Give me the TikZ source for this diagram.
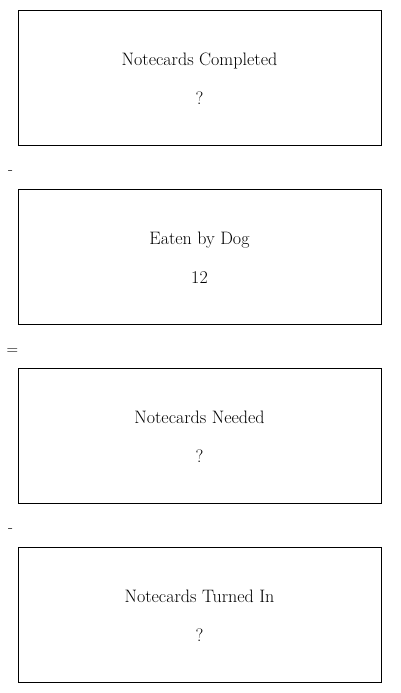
\documentclass[tikz,border=0pt]{standalone}
\begin{document}
\begin{tikzpicture}[x=1pt,y=-1pt,
  card/.style={draw=black,line width=1pt,minimum width=363pt,minimum height=135pt,inner sep=0pt,anchor=north west},
  lbl/.style={font=\fontsize{18}{21}\selectfont,inner sep=0pt},
  op/.style={font=\fontsize{16}{19}\selectfont,inner sep=0pt}]
\useasboundingbox (0,0) rectangle (400,693);
\node[card] (c1) at (18,10) {};
\node[card] (c2) at (18,189) {};
\node[card] (c3) at (18,368) {};
\node[card] (c4) at (18,547) {};
\node[lbl,anchor=base] (t1) at (199.5,65.5) {Notecards Completed};
\node[lbl,anchor=base] (v1) at (199.5,104.5) {?};
\node[lbl,anchor=base] (t2) at (199.5,244.5) {Eaten by Dog};
\node[lbl,anchor=base] (v2) at (199.5,283.5) {12};
\node[lbl,anchor=base] (t3) at (199.5,423.5) {Notecards Needed};
\node[lbl,anchor=base] (v3) at (199.5,462.5) {?};
\node[lbl,anchor=base] (t4) at (199.5,602.5) {Notecards Turned In};
\node[lbl,anchor=base] (v4) at (199.5,641.5) {?};
\node[op,anchor=base] (o1) at (10.5,174) {-};
\node[op,anchor=base] (o2) at (12.5,354) {=};
\node[op,anchor=base] (o3) at (10.5,532) {-};
\end{tikzpicture}
\end{document}
